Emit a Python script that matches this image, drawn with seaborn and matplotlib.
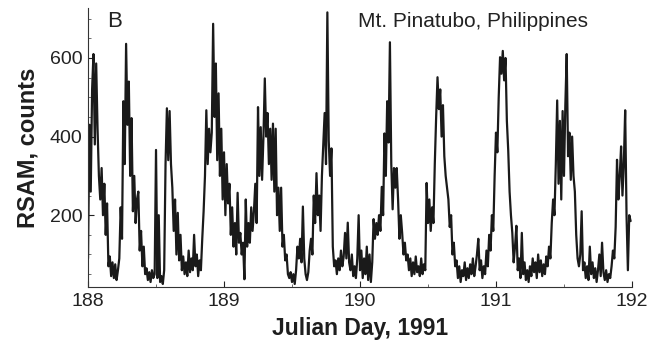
import numpy as np
import pandas as pd
import matplotlib
matplotlib.use("Agg")
import matplotlib.pyplot as plt
import seaborn as sns
from matplotlib.ticker import MultipleLocator

# RSAM counts at 0.01-day steps (8 half-day blocks)
rsam_188a = [90, 430, 260, 520, 610, 380, 586, 420, 300, 240, 320, 200, 280, 150, 230, 70, 95, 45, 80, 40,
             75, 35, 60, 90, 220, 140, 490, 330, 636, 430, 540, 300, 447, 210, 300, 180, 240, 260, 110, 160,
             70, 120, 50, 65, 35, 55, 30, 60, 40, 50]
rsam_188b = [366, 40, 200, 30, 45, 25, 60, 330, 472, 340, 465, 330, 270, 160, 240, 100, 206, 85, 150, 60,
             95, 50, 80, 45, 110, 55, 90, 60, 150, 70, 100, 45, 85, 60, 140, 210, 300, 467, 330, 420,
             360, 410, 687, 450, 586, 340, 510, 300, 420, 240]
rsam_189a = [360, 200, 330, 230, 280, 150, 220, 120, 180, 100, 257, 130, 155, 100, 130, 37, 240, 120, 180, 130,
             220, 160, 210, 280, 180, 475, 300, 424, 290, 400, 548, 400, 460, 330, 420, 290, 433, 260, 420, 200,
             270, 160, 270, 120, 150, 85, 100, 50, 40, 55]
rsam_189b = [30, 50, 25, 60, 120, 90, 140, 80, 222, 90, 50, 35, 55, 110, 140, 100, 250, 180, 307, 200,
             250, 160, 300, 380, 460, 330, 716, 390, 300, 370, 120, 70, 85, 50, 90, 60, 110, 70, 95, 155,
             90, 181, 80, 60, 100, 45, 70, 40, 90, 200]
rsam_190a = [60, 110, 40, 90, 50, 120, 35, 100, 30, 80, 190, 140, 180, 150, 200, 160, 272, 200, 408, 300,
             490, 385, 640, 330, 215, 320, 270, 320, 240, 140, 200, 155, 100, 130, 85, 100, 60, 90, 45, 80,
             50, 95, 55, 70, 45, 90, 50, 75, 60, 282]
rsam_190b = [180, 240, 160, 220, 180, 330, 450, 551, 470, 520, 400, 480, 350, 300, 270, 240, 170, 200, 100, 130,
             70, 85, 40, 70, 30, 60, 45, 80, 35, 65, 40, 75, 50, 90, 45, 70, 100, 140, 60, 85,
             40, 70, 50, 110, 70, 150, 110, 200, 160, 300]
rsam_191a = [410, 360, 500, 602, 560, 618, 543, 600, 440, 365, 260, 200, 155, 80, 120, 173, 60, 90, 40, 155,
             50, 80, 35, 60, 30, 70, 45, 90, 55, 80, 40, 100, 55, 85, 45, 75, 50, 95, 70, 120,
             90, 180, 240, 200, 330, 492, 280, 440, 240, 465]
rsam_191b = [300, 480, 610, 350, 410, 290, 400, 300, 260, 150, 90, 70, 100, 210, 60, 80, 40, 70, 35, 120,
             50, 80, 40, 65, 30, 60, 100, 45, 130, 55, 35, 60, 30, 50, 40, 70, 110, 90, 170, 341,
             240, 300, 375, 250, 330, 467, 200, 60, 200, 185]

rsam = (rsam_188a + rsam_188b + rsam_189a + rsam_189b +
        rsam_190a + rsam_190b + rsam_191a + rsam_191b)
day = 188 + np.arange(len(rsam)) / 100

df = pd.DataFrame({"day": day, "rsam": rsam})

sns.set_style("ticks")
plt.rcParams["font.family"] = ["Liberation Sans", "DejaVu Sans"]

fig = plt.figure(figsize=(6.53, 3.51), dpi=100)
ax = fig.add_axes([0.1348, 0.182, 0.833, 0.795])

sns.lineplot(data=df, x="day", y="rsam", ax=ax, color="#1a1a1a",
             linewidth=1.6, estimator=None, sort=False)

ax.set_xlim(188, 192)
ax.set_ylim(17, 727)
ax.set_xticks([188, 189, 190, 191, 192])
ax.set_yticks([200, 400, 600])
ax.xaxis.set_minor_locator(MultipleLocator(0.5))
ax.yaxis.set_minor_locator(MultipleLocator(50))
ax.tick_params(axis="both", which="major", direction="in", length=4,
               labelsize=14, colors="#222222", width=0.8)
ax.tick_params(axis="both", which="minor", direction="in", length=2, width=0.6,
               colors="#555555")
ax.tick_params(axis="x", pad=4)
ax.tick_params(axis="y", pad=4)

sns.despine(ax=ax)
for s in ["left", "bottom"]:
    ax.spines[s].set_color("#333333")
    ax.spines[s].set_linewidth(0.8)

ax.set_xlabel("Julian Day, 1991", fontsize=16.5, fontweight="bold", color="#1e1e1e", labelpad=5)
ax.set_ylabel("RSAM, counts", fontsize=17, fontweight="bold", color="#1e1e1e", labelpad=7)

ax.text(0.036, 0.99, "B", transform=ax.transAxes, fontsize=16, ha="left", va="top", color="#222222")
ax.text(0.497, 0.985, "Mt. Pinatubo, Philippines", transform=ax.transAxes, fontsize=15,
        ha="left", va="top", color="#222222")

fig.savefig("out.png", dpi=100)
